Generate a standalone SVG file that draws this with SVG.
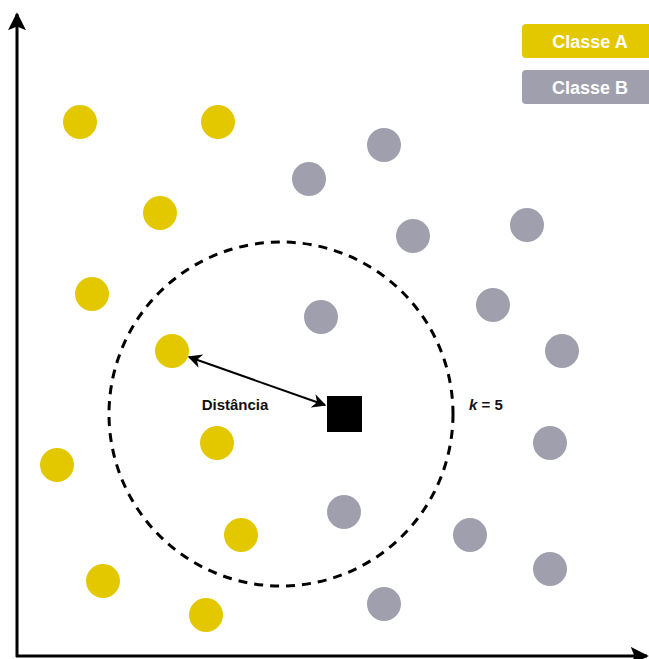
<svg xmlns="http://www.w3.org/2000/svg" width="649" height="659" viewBox="0 0 649 659">
<style>
.a{fill:#E3C800}
.b{fill:#A09FAD}
.lbl{font-family:"Liberation Sans",Arial,sans-serif;font-weight:bold;fill:#fff;font-size:18px;text-anchor:middle}
.t{font-family:"Liberation Sans",Arial,sans-serif;font-weight:bold;fill:#111;font-size:15px}
</style>
<defs>
<marker id="ah" viewBox="0 0 10 10" refX="9" refY="5" markerWidth="7" markerHeight="7" orient="auto-start-reverse" markerUnits="strokeWidth">
<path d="M0,0 L10,5 L0,10 L3,5 Z" fill="#000"/>
</marker>
<marker id="ax" viewBox="0 0 10 10" refX="9" refY="5" markerWidth="6" markerHeight="6" orient="auto" markerUnits="strokeWidth">
<path d="M0,0 L10,5 L0,10 L2,5 Z" fill="#000"/>
</marker>
</defs>
<rect width="649" height="659" fill="#fff"/>
<g id="axes">
<path d="M17,657 L17,14" stroke="#000" stroke-width="3" fill="none" marker-end="url(#ax)"/>
<path d="M16,656 L647,656" stroke="#000" stroke-width="3" fill="none" marker-end="url(#ax)"/>
</g>
<g id="legend">
<g id="legend-a"><rect x="522" y="24" width="140" height="34" rx="4" class="a"/><text x="590" y="48" class="lbl">Classe A</text></g>
<g id="legend-b"><rect x="522" y="70" width="140" height="34" rx="4" class="b"/><text x="590" y="94" class="lbl">Classe B</text></g>
</g>
<g id="classA">
<circle id="a1" cx="80" cy="122" r="17" class="a"/>
<circle id="a2" cx="218" cy="122" r="17" class="a"/>
<circle id="a3" cx="160" cy="213" r="17" class="a"/>
<circle id="a4" cx="92" cy="294" r="17" class="a"/>
<circle id="a5" cx="172" cy="351" r="17" class="a"/>
<circle id="a6" cx="217" cy="443" r="17" class="a"/>
<circle id="a7" cx="57" cy="465" r="17" class="a"/>
<circle id="a8" cx="241" cy="535" r="17" class="a"/>
<circle id="a9" cx="103" cy="581" r="17" class="a"/>
<circle id="a10" cx="206" cy="615" r="17" class="a"/>
</g>
<g id="classB">
<circle id="b1" cx="384" cy="145" r="17" class="b"/>
<circle id="b2" cx="309" cy="179" r="17" class="b"/>
<circle id="b3" cx="413" cy="236" r="17" class="b"/>
<circle id="b4" cx="527" cy="225" r="17" class="b"/>
<circle id="b5" cx="321" cy="317" r="17" class="b"/>
<circle id="b6" cx="493" cy="305" r="17" class="b"/>
<circle id="b7" cx="562" cy="351" r="17" class="b"/>
<circle id="b8" cx="550" cy="443" r="17" class="b"/>
<circle id="b9" cx="344" cy="512" r="17" class="b"/>
<circle id="b10" cx="470" cy="535" r="17" class="b"/>
<circle id="b11" cx="550" cy="569" r="17" class="b"/>
<circle id="b12" cx="384" cy="604" r="17" class="b"/>
</g>
<g id="neighborhood">
<circle cx="281" cy="414" r="172" fill="none" stroke="#000" stroke-width="3" stroke-dasharray="9 7"/>
<text x="469" y="410" class="t"><tspan font-style="italic">k</tspan> = 5</text>
</g>
<g id="query">
<rect x="327" y="396" width="35" height="36" fill="#000"/>
</g>
<g id="connectors">
<line x1="189" y1="357" x2="325" y2="405" stroke="#000" stroke-width="2" marker-start="url(#ah)" marker-end="url(#ah)"/>
<text x="235" y="410" class="t" text-anchor="middle">Distância</text>
</g>
</svg>
